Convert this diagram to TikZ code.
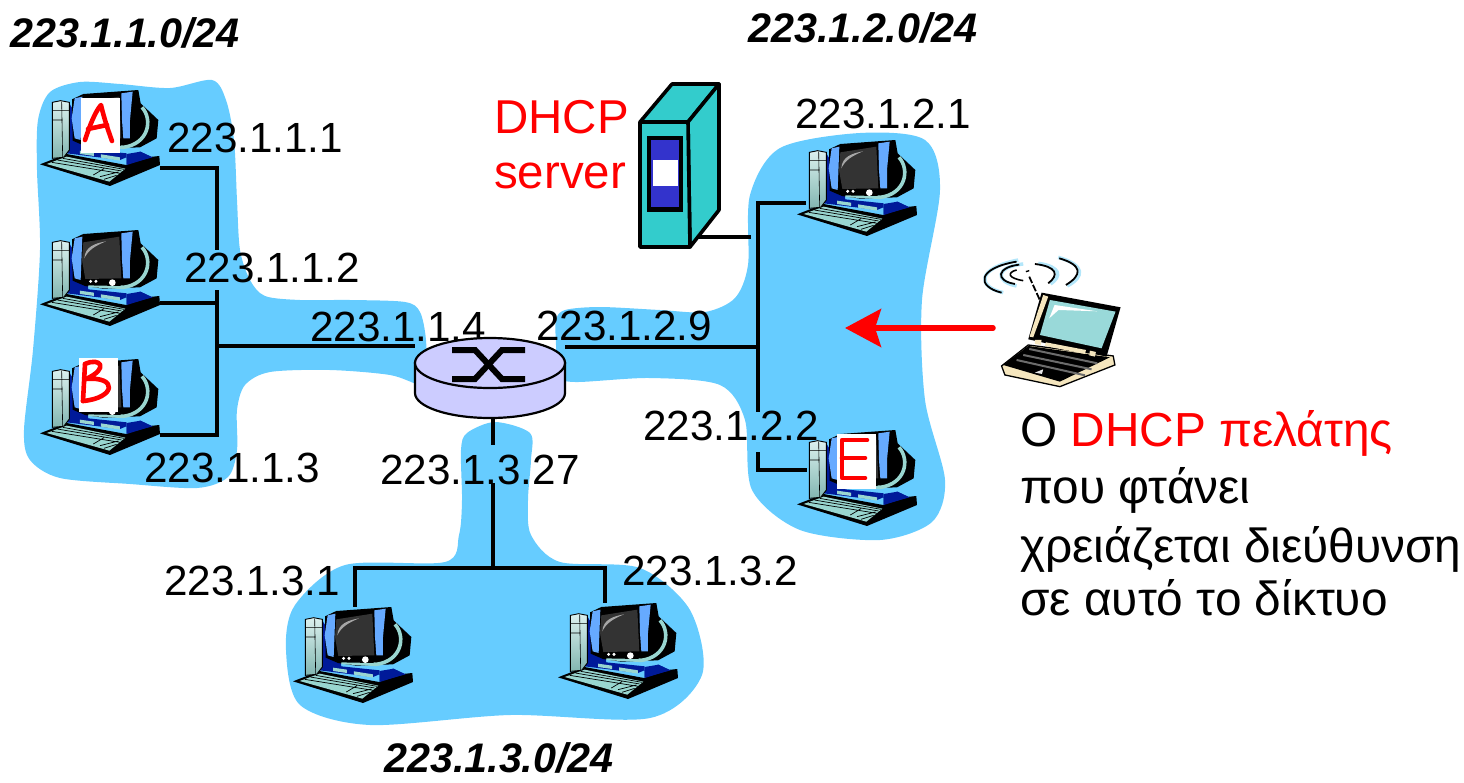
\documentclass[tikz,border=0pt]{standalone}
\usepackage{fontspec}
\setmainfont{Liberation Sans}
\usetikzlibrary{arrows.meta}
\definecolor{lan}{HTML}{66CCFF}
\definecolor{rtr}{HTML}{CCCCFF}
\definecolor{srv}{HTML}{33CCCC}
\definecolor{srvb}{HTML}{3333CC}
\definecolor{dkb}{HTML}{001A99}
\definecolor{tl}{HTML}{99D6D0}
\definecolor{strip}{HTML}{66AAFF}
\definecolor{scr}{HTML}{333333}
\definecolor{crm}{HTML}{F5E6BE}
\definecolor{lapscr}{HTML}{99D9D9}
\definecolor{hand}{HTML}{FF0000}
\tikzset{
  blob/.style={fill=lan,draw=none},
  wire/.style={draw=black,line width=3.6pt},
  ip/.style={anchor=base west,inner sep=0pt,font=\fontsize{42.2}{50}\selectfont},
  net/.style={anchor=base west,inner sep=0pt,font=\fontsize{41.3}{50}\selectfont\bfseries\itshape},
  redtxt/.style={anchor=base west,inner sep=0pt,text=red,font=\fontsize{47.5}{50}\selectfont},
  note/.style={anchor=base west,inner sep=0pt,font=\fontsize{47.8}{50}\selectfont},
  pcbox/.style={minimum width=120pt,minimum height=96pt,inner sep=0pt,draw=none},
  letterbox/.style={fill=white,draw=none},
  scrawl/.style={draw=hand,line width=4.6pt,line cap=round,line join=round},
  pc/.pic={
    \begin{scope}[x=.3333pt,y=-.3333pt,shift={(-60,-60)}]
      % keyboard base
      \fill[black] (60,283) -- (140,252) -- (318,285) -- (380,262) -- (418,258) -- (420,285) -- (270,348) -- cycle;
      % dark blue base
      \fill[dkb] (148,100) -- (195,180) -- (205,238) -- (320,250) -- (320,285) -- (395,262) -- (360,245) -- (300,270) -- (140,250) -- cycle;
      \fill[dkb] (320,252) -- (362,245) -- (398,262) -- (320,282) -- cycle;
      % monitor back
      \fill[black] (156,88) -- (190,72) -- (355,60) -- (362,100) -- (415,150) -- (410,205) -- (360,232) -- (250,236) -- (195,228) -- (158,212) -- cycle;
      % neck
      \draw[tl,line width=3.6pt] (366,112) .. controls (400,150) and (385,222) .. (310,232) -- (205,226);
      \fill[black] (196,205) -- (302,208) -- (302,228) -- (196,226) -- cycle;
      % blue strips
      \fill[strip] (164,85) -- (187,80) -- (182,210) -- (164,205) -- (155,145) -- cycle;
      \fill[strip] (304,70) -- (338,65) -- (330,150) -- (330,205) -- (310,205) -- (306,150) -- cycle;
      % screen
      \fill[scr] (190,97) -- (298,80) -- (304,205) -- (196,207) -- (186,150) -- cycle;
      \fill[gray!70] (193,145) .. controls (195,110) and (225,100) .. (258,94) .. controls (225,108) and (205,120) .. (193,145) -- cycle;
      \fill[white] (212,214) circle[radius=5] (228,214) circle[radius=5] (277,218) circle[radius=10];
      % small drawers
      \fill[tl] (180,242) -- (222,248) -- (222,258) -- (180,252) -- cycle;
      \fill[tl] (243,253) -- (300,262) -- (300,272) -- (243,263) -- cycle;
      % tower
      \draw[top color=tl!35!white,bottom color=tl!85!black,draw=black,line width=.9pt] (97,97) -- (122,92) -- (148,97) -- (148,240) -- (131,262) -- (97,265) -- cycle;
      \draw[black,line width=.6pt] (125,95) -- (128,262) (97,122) -- (148,122) (97,150) -- (128,150);
      % keys
      \fill[tl] (80,282) -- (140,260) -- (316,296) -- (268,335) -- cycle;
      \draw[black,line width=.7pt] (95,277) -- (300,310) (112,270) -- (305,303) (128,265) -- (312,298) (220,315) -- (252,296) (240,320) -- (295,306) (252,328) -- (290,316);
    \end{scope}
  }
}
\begin{document}
\begin{tikzpicture}[x=1pt,y=-1pt]
\useasboundingbox (0,0) rectangle (1464,782);
% shaded subnets
\fill[blob] plot[smooth cycle,tension=.5] coordinates {(38,120)(50,92)(80,82)(120,84)(170,88)(212,80)(226,100)(234,140)(237,200)(240,250)(250,280)(265,296)(300,300)(350,300)(405,302)(420,312)(426,340)(426,378)(420,385)(390,375)(330,370)(270,372)(245,385)(237,410)(237,450)(228,477)(197,488)(130,484)(60,478)(30,460)(24,430)(33,350)(40,250)(37,170)};
\fill[blob] plot[smooth cycle,tension=.5] coordinates {(556,345)(556,320)(565,310)(600,307)(660,310)(705,312)(735,298)(748,265)(750,195)(780,148)(860,133)(925,140)(940,190)(922,300)(925,400)(945,480)(932,522)(880,540)(800,530)(752,490)(745,420)(720,385)(650,378)(575,382)(558,375)};
\fill[blob] plot[smooth cycle,tension=.5] coordinates {(461,450)(467,433)(495,422)(530,433)(531,460)(528,500)(531,535)(560,562)(640,568)(690,610)(702,675)(650,718)(510,715)(370,725)(300,705)(286,650)(295,605)(345,565)(445,562)(459,535)(462,500)};
% pc placeholders
\node[pcbox] (pcA) at (100,138) {};
\node[pcbox] (pcC) at (100,278) {};
\node[pcbox] (pcB) at (100,407) {};
\node[pcbox] (pcD) at (857,188) {};
\node[pcbox] (pcE) at (857,478) {};
\node[pcbox] (pcF) at (353,655) {};
\node[pcbox] (pcG) at (618,651) {};
\node[inner sep=0pt,minimum width=150pt,minimum height=80pt] (router) at (490,378) {};
\node[inner sep=0pt,minimum width=80pt,minimum height=163pt] (server) at (680,166) {};
\coordinate (busL1) at (217,168);
\coordinate (busLa) at (217,250);
\coordinate (busLb) at (217,290);
\coordinate (busL2) at (217,303);
\coordinate (busL3) at (217,346);
\coordinate (busL4) at (217,435);
\coordinate (busR1) at (758,203);
\coordinate (busRa) at (758,412);
\coordinate (busRb) at (758,452);
\coordinate (busR3) at (758,347);
\coordinate (busR4) at (758,470);
\coordinate (busB1) at (355,568);
\coordinate (busB2) at (493,568);
\coordinate (busB3) at (605,568);
\coordinate (busBa) at (493,445);
\coordinate (busBb) at (493,483);
\coordinate (srvstart) at (699,237);
\coordinate (srvend) at (751,237);
\coordinate (pcDport) at (806,203);
\coordinate (pcEport) at (807,470);
% wires
\draw[wire] (pcA.east |- busL1) -- (busL1) -- (busLa);
\draw[wire] (busLb) -- (busL4) -- (pcB.east |- busL4);
\draw[wire] (pcC.east |- busL2) -- (busL2);
\draw[wire] (busL3) -- (router.west |- busL3);
\draw[wire] (pcDport) -- (busR1) -- (busRa);
\draw[wire] (busRb) -- (busR4) -- (pcEport);
\draw[wire] (router.east |- busR3) -- (busR3);
\draw[wire] (srvstart) -- (srvend);
\draw[wire] (router.south -| busB2) -- (busBa);
\draw[wire] (busBb) -- (busB2);
\draw[wire] (pcF.north -| busB1) -- (busB1) -- (busB3) -- (pcG.north -| busB3);
% computers
\pic at (40,90) {pc};
\pic at (40,230) {pc};
\pic at (40,359) {pc};
\pic at (797,140) {pc};
\pic at (797,430) {pc};
\pic at (293,607) {pc};
\pic at (558,603) {pc};
% hand-written marks
\fill[letterbox] (81,98) rectangle (120,153);
\draw[scrawl] (85,140) .. controls (90,125) and (95,112) .. (101,105) .. controls (104,118) and (108,130) .. (112,141);
\draw[scrawl] (88,129) -- (107,125);
\fill[letterbox] (79,358) rectangle (118,412);
\draw[scrawl] (85,364) -- (83,401);
\draw[scrawl] (85,364) .. controls (100,357) and (110,368) .. (86,379) .. controls (118,376) and (116,398) .. (83,401);
\fill[letterbox] (837,434) rectangle (876,489);
\draw[scrawl] (867,440) -- (842,440) -- (842,478) -- (865,478) (842,458) -- (865,458);
% server
\draw[fill=srv,line width=3.6pt,line join=round] (640,122) -- (672,84) -- (719,84) -- (688,122) -- cycle;
\draw[fill=srv,line width=3.6pt,line join=round] (688,122) -- (719,84) -- (719,210) -- (690,247) -- cycle;
\draw[fill=srv,line width=3.6pt,line join=round] (640,122) -- (688,122) -- (690,247) -- (640,247) -- cycle;
\fill[black] (647,136) rectangle (683,212);
\fill[srvb] (651,140) rectangle (679,207);
\fill[white] (653,160) rectangle (678,186);
% labels
\node[net] (n1) at (10,47) {223.1.1.0/24};
\node[net] (n2) at (748,42) {223.1.2.0/24};
\node[net] (n3) at (384,772) {223.1.3.0/24};
\node[ip] (a1) at (167,152) {223.1.1.1};
\node[ip] (a2) at (184,282) {223.1.1.2};
\node[ip] (a3) at (144,482) {223.1.1.3};
\node[ip] (a4) at (310,341) {223.1.1.4};
\node[ip] (b1) at (795,128) {223.1.2.1};
\node[ip] (b2) at (643,440) {223.1.2.2};
\node[ip] (b9) at (536,340) {223.1.2.9};
\node[ip] (c1) at (164,595) {223.1.3.1};
\node[ip] (c2) at (622,585) {223.1.3.2};
\node[ip] (c27) at (380,484) {223.1.3.27};
\node[redtxt] (d1) at (494,133) {DHCP};
\node[redtxt] (d2) at (494,188) {server};
\node[note] (t1) at (1020,446) {Ο \textcolor{red}{DHCP πελάτης}};
\node[note] (t2) at (1020,503) {που φτάνει};
\node[note] (t3) at (1020,562) {χρειάζεται διεύθυνση};
\node[note] (t4) at (1020,615) {σε αυτό το δίκτυο};
% router
\draw[fill=rtr,line width=2.2pt] (415,363) -- (415,393) arc[start angle=180,end angle=0,x radius=75,y radius=25] -- (565,363) -- cycle;
\draw[fill=rtr,line width=2.2pt] (490,363) ellipse[x radius=75,y radius=25];
\draw[line width=6pt] (452,350) -- (475,350) -- (502,379) -- (525,379);
\draw[line width=6pt] (452,379) -- (475,379) -- (502,350) -- (525,350);
% laptop
\coordinate (lapleft) at (993,328);
\coordinate (arrowtip) at (845,328);
\draw[red,line width=5.5pt,line cap=round,-{Stealth[length=36pt,width=38pt,inset=6pt]}] (lapleft) -- (arrowtip);
\begin{scope}[x=.3333pt,y=-.3333pt,shift={(2880,750)}]
  \draw[cyan!30,line width=3.5pt] (130,128) .. controls (50,110) and (50,55) .. (175,30);
  \draw[cyan!30,line width=3.5pt] (170,108) .. controls (105,95) and (105,50) .. (190,42);
  \draw[cyan!30,line width=3.5pt] (295,22) .. controls (375,45) and (375,80) .. (322,108);
  \draw[cyan!30,line width=3.5pt] (235,40) .. controls (305,50) and (305,80) .. (272,102);
  \draw[black,line width=1.8pt] (125,128) .. controls (50,110) and (50,55) .. (170,35);
  \draw[black,line width=1.8pt] (165,102) .. controls (105,92) and (110,52) .. (178,44);
  \draw[black,line width=1.6pt] (190,92) .. controls (145,85) and (140,68) .. (170,60);
  \draw[black,line width=1.8pt] (298,25) .. controls (368,45) and (368,75) .. (318,105);
  \draw[black,line width=1.8pt] (225,42) .. controls (292,50) and (298,75) .. (265,100);
  \draw[black,line width=1.4pt] (198,65) -- (208,62);
  \draw[black,line width=1.8pt,dash pattern=on 7pt off 2pt] (208,80) -- (242,155);
  \fill[crm,draw=black,line width=1.3pt] (125,348) -- (205,285) -- (460,318) -- (465,345) -- (300,410) -- (135,375) -- cycle;
  \fill[black] (130,345) -- (205,288) -- (450,322) -- (300,395) -- cycle;
  \draw[gray!85!black,line width=2pt] (208,297) -- (412,340) (190,315) -- (395,358) (170,330) -- (375,376);
  \fill[white!80!gray] (225,368) -- (250,358) -- (246,372) -- cycle;
  \fill[black] (245,128) -- (482,172) -- (440,320) -- (205,268) -- cycle;
  \fill[crm] (250,135) -- (265,140) -- (220,262) -- (209,260) -- cycle;
  \fill[lapscr] (270,150) -- (467,185) -- (425,295) -- (240,255) -- cycle;
  \fill[white] (284,165) -- (268,205) -- (296,180) -- (412,184) -- cycle;
  \fill[crm] (225,270) -- (245,270) -- (243,285) -- (225,282) -- cycle;
  \fill[crm] (258,277) -- (378,300) -- (376,312) -- (255,288) -- cycle;
  \fill[crm] (390,302) -- (408,306) -- (405,320) -- (388,316) -- cycle;
\end{scope}
\end{tikzpicture}
\end{document}
